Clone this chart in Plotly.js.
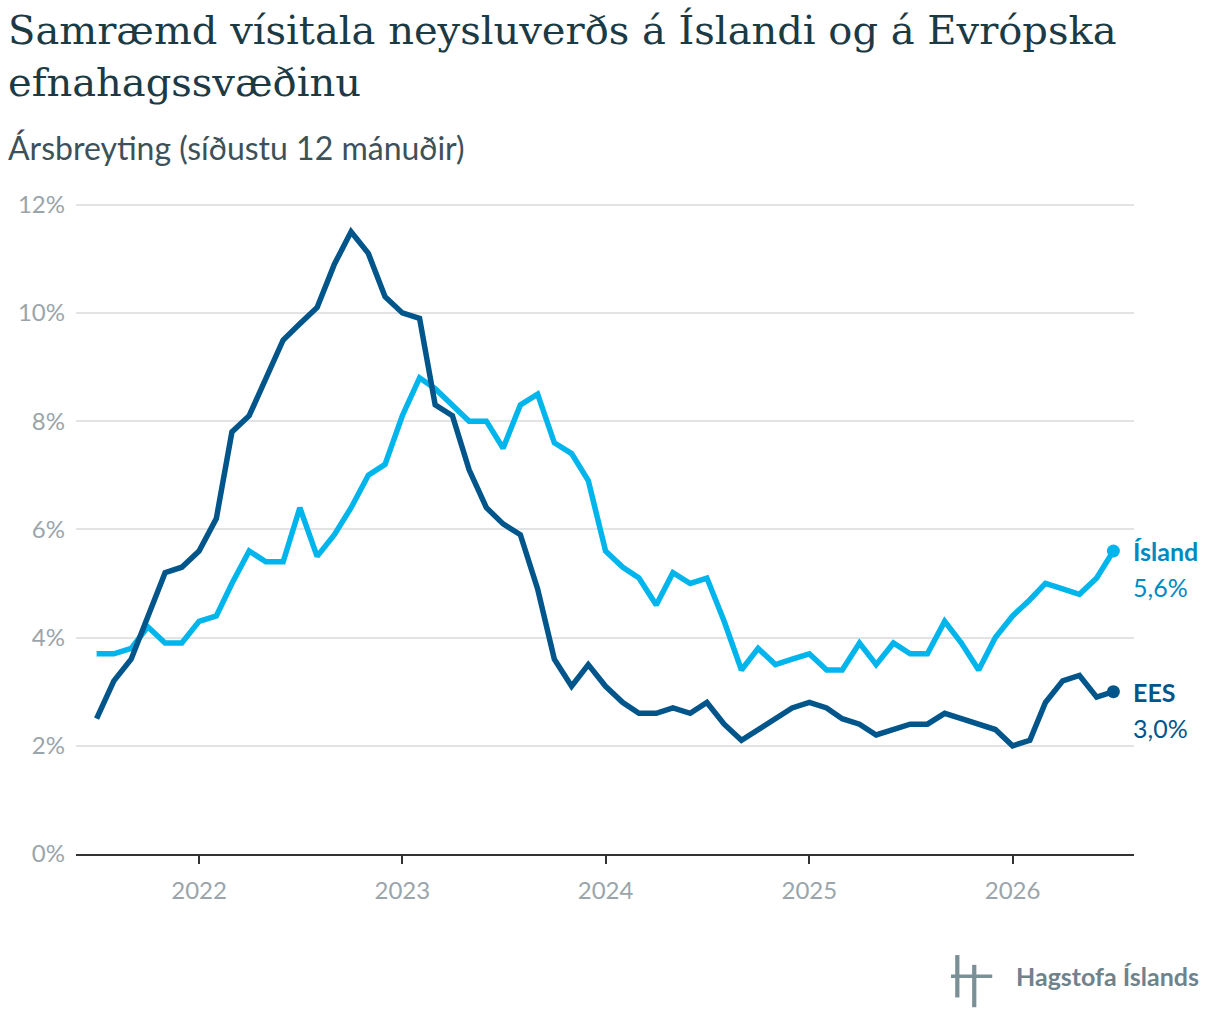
<!DOCTYPE html>
<html>
<head>
<meta charset="utf-8">
<script src="https://cdn.plot.ly/plotly-3.0.1.min.js"></script>
<style>body{margin:0;background:#fff}#chart{width:1220px;height:1026px}</style>
</head>
<body>
<div id="chart"></div>
<script>
// monthly, 2021-07 .. 2026-07
var startYear = 2021, startMonth = 7;
var island = [3.7,3.7,3.8,4.2,3.9,3.9,4.3,4.4,5.0,5.6,5.4,5.4,6.4,5.5,5.9,6.4,7.0,7.2,8.1,8.8,
  8.6,8.3,8.0,8.0,7.5,8.3,8.5,7.6,7.4,6.9,5.6,5.3,5.1,4.6,5.2,5.0,5.1,4.3,3.4,3.8,
  3.5,3.6,3.7,3.4,3.4,3.9,3.5,3.9,3.7,3.7,4.3,3.9,3.4,4.0,4.4,4.7,5.0,4.9,4.8,5.1,5.6];
var ees = [2.5,3.2,3.6,4.4,5.2,5.3,5.6,6.2,7.8,8.1,8.8,9.5,9.8,10.1,10.9,11.5,11.1,10.3,10.0,9.9,
  8.3,8.1,7.1,6.4,6.1,5.9,4.9,3.6,3.1,3.5,3.1,2.8,2.6,2.6,2.7,2.6,2.8,2.4,2.1,2.3,
  2.5,2.7,2.8,2.7,2.5,2.4,2.2,2.3,2.4,2.4,2.6,2.5,2.4,2.3,2.0,2.1,2.8,3.2,3.3,2.9,3.0];
var yTicks = [0,2,4,6,8,10,12];
var yTickText = ['0%','2%','4%','6%','8%','10%','12%'];

var dates = island.map(function(v, i) {
  var m = startMonth - 1 + i;
  var y = startYear + Math.floor(m / 12);
  var mm = (m % 12) + 1;
  return y + '-' + (mm < 10 ? '0' : '') + mm + '-01';
});
var last = dates.length - 1;
var cLight = '#00b5ec', cDark = '#00568a';

var traces = [
  {x: dates, y: island, mode: 'lines', line: {color: cLight, width: 5.5}, hoverinfo: 'skip'},
  {x: dates, y: ees, mode: 'lines', line: {color: cDark, width: 5.5}, hoverinfo: 'skip'},
  {x: [dates[last]], y: [island[last]], mode: 'markers', marker: {color: cLight, size: 13}},
  {x: [dates[last]], y: [ees[last]], mode: 'markers', marker: {color: cDark, size: 13}}
];

function fmt(v) { return v.toFixed(1).replace('.', ',') + '%'; }

var layout = {
  width: 1220, height: 1026,
  margin: {l: 76, r: 86, t: 202, b: 172},
  showlegend: false,
  paper_bgcolor: '#fff', plot_bgcolor: '#fff',
  font: {family: 'Lato, sans-serif'},
  xaxis: {
    type: 'date', range: ['2021-05-25', '2026-08-07'],
    tickvals: ['2022-01-01','2023-01-01','2024-01-01','2025-01-01','2026-01-01'],
    ticktext: ['2022','2023','2024','2025','2026'],
    showgrid: false, showline: true, linecolor: '#333', linewidth: 2,
    ticks: 'outside', ticklen: 8, tickcolor: '#333', tickwidth: 2,
    tickfont: {size: 24, color: '#9aa5ab', family: 'Lato'}, zeroline: false, ticklabelstandoff: 6
  },
  yaxis: {
    range: [0, 12.05], tickvals: yTicks, ticktext: yTickText,
    showgrid: true, gridcolor: '#e3e3e3', gridwidth: 2, zeroline: false,
    tickfont: {size: 24, color: '#9aa5ab', family: 'Lato'}, ticks: '', ticklabelstandoff: 10
  },
  annotations: [
    {xref: 'paper', yref: 'paper', x: -0.066, y: 1.302, xanchor: 'left', yanchor: 'top', align: 'left',
     text: 'Samræmd vísitala neysluverðs á Íslandi og á Evrópska<br>efnahagssvæðinu', showarrow: false,
     font: {family: 'DejaVu Serif, serif', size: 40, color: '#1c3a44'}},
    {xref: 'paper', yref: 'paper', x: -0.066, y: 1.084, xanchor: 'left', yanchor: 'middle',
     text: 'Ársbreyting (síðustu 12 mánuðir)', showarrow: false,
     font: {family: 'Lato', size: 32, color: '#3d5159'}},
    {x: dates[last], y: island[last], xanchor: 'left', yanchor: 'middle', xshift: 18,
     text: '<b>Ísland</b>', showarrow: false, font: {size: 25, color: '#0089c2'}},
    {x: dates[last], y: island[last], xanchor: 'left', yanchor: 'middle', xshift: 18, yshift: -36,
     text: fmt(island[last]), showarrow: false, font: {size: 25, color: '#0089c2'}},
    {x: dates[last], y: ees[last], xanchor: 'left', yanchor: 'middle', xshift: 18,
     text: '<b>EES</b>', showarrow: false, font: {size: 25, color: cDark}},
    {x: dates[last], y: ees[last], xanchor: 'left', yanchor: 'middle', xshift: 18, yshift: -36,
     text: fmt(ees[last]), showarrow: false, font: {size: 25, color: cDark}},
    {xref: 'paper', yref: 'paper', x: 1.063, y: -0.187, xanchor: 'right', yanchor: 'middle',
     text: '<b>Hagstofa Íslands</b>', showarrow: false,
     font: {family: 'Lato', size: 25, color: '#6e838c'}}
  ],
  shapes: [
    {type: 'rect', xref: 'paper', yref: 'paper', x0: 0.831, x1: 0.835, y0: -0.22, y1: -0.155, fillcolor: '#7b8f97', line: {width: 0}},
    {type: 'rect', xref: 'paper', yref: 'paper', x0: 0.847, x1: 0.851, y0: -0.235, y1: -0.17, fillcolor: '#7b8f97', line: {width: 0}},
    {type: 'rect', xref: 'paper', yref: 'paper', x0: 0.827, x1: 0.866, y0: -0.19, y1: -0.185, fillcolor: '#7b8f97', line: {width: 0}}
  ]
};

Plotly.newPlot('chart', traces, layout, {displayModeBar: false, staticPlot: true});
</script>
</body>
</html>
